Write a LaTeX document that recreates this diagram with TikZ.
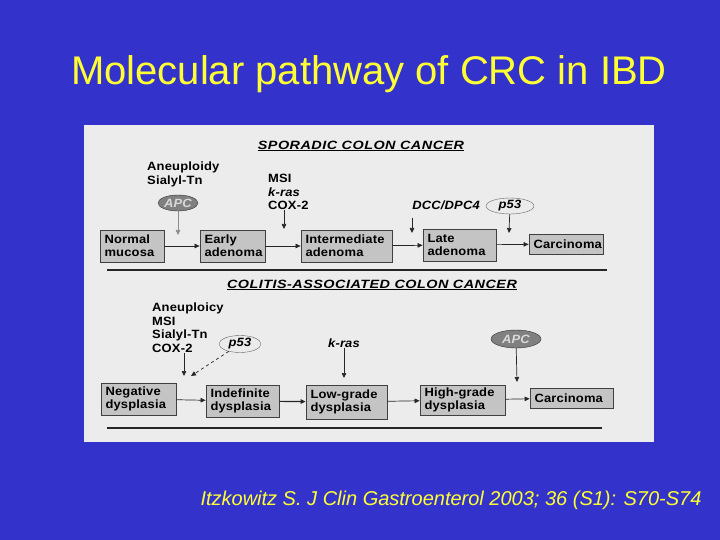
\documentclass[tikz,border=0pt]{standalone}
\usepackage{fontspec}
\setmainfont{Liberation Sans}
\newfontfamily\scanfont[FakeStretch=1.08,LetterSpace=1.5]{Liberation Sans}
\newfontfamily\headfont[FakeStretch=1.2,LetterSpace=4]{Liberation Sans}
\usetikzlibrary{arrows.meta,shapes.geometric}
\definecolor{slideblue}{RGB}{51,51,204}
\definecolor{slideyellow}{RGB}{255,255,51}
\definecolor{scanpaper}{RGB}{236,236,236}
\definecolor{boxgray}{RGB}{196,196,196}
\tikzset{
    stage/.style={draw=black!75,fill=boxgray,line width=0.8pt,inner xsep=4.5pt,inner ysep=3pt,
      align=left,text width=#1,minimum height=32pt,
      font=\scanfont\bfseries\fontsize{12}{13}\selectfont},
    genes/.style={inner sep=0pt,align=left,
      font=\scanfont\bfseries\fontsize{12}{13.5}\selectfont},
    head/.style={inner sep=0pt,font=\headfont\bfseries\itshape\fontsize{12}{13}\selectfont},
    darkgene/.style={ellipse,draw=black!80,fill=black!50,text=black!15,inner sep=0pt,
      minimum width=40pt,minimum height=16pt,
      font=\scanfont\bfseries\itshape\fontsize{12}{12}\selectfont},
    lightgene/.style={ellipse,draw=black!60,fill=black!8,inner sep=0pt,
      minimum width=48pt,minimum height=16pt,
      font=\scanfont\bfseries\itshape\fontsize{12}{12}\selectfont},
    arr/.style={-{Triangle[length=5pt,width=4.5pt]},line width=0.7pt,black!85},
    sep/.style={line width=2pt,black!85},
  }
\begin{document}
\begin{tikzpicture}[x=1pt,y=-1pt]
  \useasboundingbox (0,0) rectangle (720,540);
  \fill[slideblue] (0,0) rectangle (720,540);
  % title and source
  \node[anchor=base,text=slideyellow,font=\fontsize{40}{48}\selectfont] (title) at (369,85) {Molecular pathway of CRC in IBD};
  \node[anchor=base,text=slideyellow,font=\itshape\fontsize{20}{24}\selectfont] (cite) at (451,505) {Itzkowitz S. J Clin Gastroenterol 2003; 36 (S1): S70-S74};
  % scanned figure
  \fill[scanpaper] (84,125) rectangle (654,442);
  % sporadic
  \node[head] (sporhead) at (361,146) {\underline{SPORADIC COLON CANCER}};
  \node[genes,anchor=north west] (spgenesa) at (147,162) {Aneuploidy\\Sialyl-Tn};
  \node[darkgene] (apca) at (178,203) {APC};
  \node[genes,anchor=north west] (spgenesb) at (268,174) {MSI\\\textit{k-ras}\\COX-2};
  \node[genes,font=\scanfont\bfseries\itshape\fontsize{12}{12}\selectfont] (dcc) at (446,205) {DCC/DPC4};
  \node[lightgene] (p53a) at (510,206) {p53};
  \node[stage=55pt] (normal) at (132,246) {Normal\\mucosa};
  \node[stage=56pt] (early) at (232.5,246) {Early\\adenoma};
  \node[stage=82pt] (inter) at (346.5,246) {Intermediate\\adenoma};
  \node[stage=64pt] (late) at (459.5,245) {Late\\adenoma};
  \node[stage=65pt,minimum height=20pt] (carca) at (566,244) {Carcinoma};
  \coordinate (apcin) at (178,235);
  \coordinate (msiin) at (284,229);
  \coordinate (dccin) at (412,233);
  \coordinate (p53in) at (509,233);
  \draw[arr,black!45] (apca) -- (apcin);
  \draw[arr] (msiin |- spgenesb.south) -- (msiin);
  \draw[arr] ([yshift=-8pt]dccin |- dcc.south) -- (dccin);
  \draw[arr] (p53a) -- (p53in);
  \draw[arr] (normal) -- (early);
  \draw[arr] (early) -- (inter);
  \draw[arr] (inter) -- (late);
  \draw[arr] (late) -- (carca);
  \draw[sep] (107,270) -- (607,270);
  % colitis-associated
  \node[head] (colhead) at (372,285) {\underline{COLITIS-ASSOCIATED COLON CANCER}};
  \node[genes,anchor=north west] (cogenes) at (152,303) {Aneuploicy\\MSI\\Sialyl-Tn\\COX-2};
  \node[lightgene,minimum width=42pt,minimum height=17pt] (p53b) at (240,344) {p53};
  \node[genes,font=\scanfont\bfseries\itshape\fontsize{12}{12}\selectfont] (kras) at (344,343) {k-ras};
  \node[darkgene,minimum width=50pt,minimum height=18pt] (apcb) at (516,339) {APC};
  \node[stage=66pt] (negative) at (138.5,399) {Negative\\dysplasia};
  \node[stage=64pt] (indef) at (242.5,401) {Indefinite\\dysplasia};
  \node[stage=72pt,minimum height=34pt] (low) at (346.5,402) {Low-grade\\dysplasia};
  \node[stage=76pt,minimum height=30pt] (high) at (462.5,400) {High-grade\\dysplasia};
  \node[stage=74pt,minimum height=20pt] (carcb) at (571.5,398) {Carcinoma};
  \coordinate (colin) at (184,376);
  \coordinate (p53bin) at (191,376);
  \coordinate (krasin) at (344,378);
  \coordinate (apcbin) at (517,382);
  \draw[arr] (colin |- cogenes.south) -- (colin);
  \draw[arr,dashed] (p53b) -- (p53bin);
  \draw[arr] (kras) -- (krasin);
  \draw[arr] (apcb) -- (apcbin);
  \draw[arr] (negative) -- (indef);
  \draw[arr,line width=1.2pt] (indef) -- (low);
  \draw[arr] (low) -- (high);
  \draw[arr] (high) -- (carcb);
  \draw[sep] (107,428) -- (602,428);
\end{tikzpicture}
\end{document}
